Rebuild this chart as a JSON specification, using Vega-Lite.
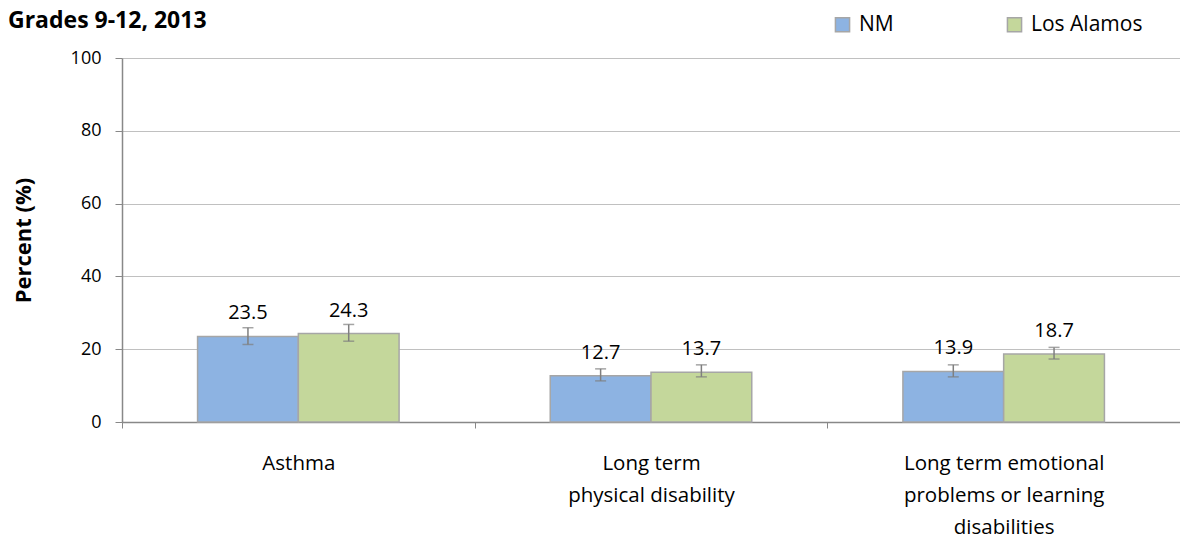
{
  "$schema": "https://vega.github.io/schema/vega-lite/v6.json",
  "width": 1058,
  "height": 364,
  "autosize": {"type": "none"},
  "padding": {"left": 122, "top": 58, "right": 0, "bottom": 119},
  "background": "white",
  "config": {
    "font": "Open Sans",
    "view": {"stroke": null}
  },
  "title": {
    "text": "Grades 9-12, 2013",
    "anchor": "start",
    "frame": "group",
    "fontSize": 23,
    "fontWeight": "bold",
    "font": "Open Sans",
    "color": "#000000",
    "dx": -114,
    "dy": 33,
    "offset": 14
  },
  "data": {
    "values": [
      {"category": "Asthma", "group": "NM", "value": 23.5, "lo": 21.3, "hi": 25.9},
      {"category": "Asthma", "group": "Los Alamos", "value": 24.3, "lo": 22.2, "hi": 26.8},
      {"category": "Long term physical disability", "group": "NM", "value": 12.7, "lo": 11.3, "hi": 14.6},
      {"category": "Long term physical disability", "group": "Los Alamos", "value": 13.7, "lo": 12.4, "hi": 15.7},
      {"category": "Long term emotional problems or learning disabilities", "group": "NM", "value": 13.9, "lo": 12.4, "hi": 15.7},
      {"category": "Long term emotional problems or learning disabilities", "group": "Los Alamos", "value": 18.7, "lo": 17.3, "hi": 20.5}
    ]
  },
  "encoding": {
    "x": {
      "field": "category",
      "type": "nominal",
      "sort": null,
      "scale": {"paddingInner": 0, "paddingOuter": 0},
      "axis": {
        "title": null,
        "labelAngle": 0,
        "labelFontSize": 20.5,
        "labelColor": "#000000",
        "labelLineHeight": 32,
        "labelPadding": 25,
        "labelBaseline": "top",
        "labelExpr": "datum.label == 'Asthma' ? ['Asthma'] : datum.label == 'Long term physical disability' ? ['Long term', 'physical disability'] : datum.label == 'Long term emotional problems or learning disabilities' ? ['Long term emotional', 'problems or learning', 'disabilities'] : ''",
        "tickBand": "extent",
        "tickSize": 6,
        "tickColor": "#888888",
        "domainColor": "#888888",
        "domainWidth": 1.5,
        "labelLimit": 400
      }
    },
    "xOffset": {
      "field": "group",
      "type": "nominal",
      "sort": ["NM", "Los Alamos"],
      "scale": {"paddingOuter": 0.75, "paddingInner": 0}
    }
  },
  "layer": [
    {
      "mark": {"type": "bar", "stroke": "#a6a6a6", "strokeWidth": 1.5},
      "encoding": {
        "y": {
          "field": "value",
          "type": "quantitative",
          "scale": {"domain": [0, 100]},
          "axis": {
            "title": "Percent (%)",
            "titleFontSize": 22,
            "titleFontWeight": "bold",
            "titleColor": "#000000",
            "titlePadding": 35,
            "values": [0, 20, 40, 60, 80, 100],
            "labelFontSize": 18,
            "labelColor": "#000000",
            "labelPadding": 14,
            "tickSize": 7,
            "tickColor": "#888888",
            "domainColor": "#888888",
            "domainWidth": 1.5,
            "gridColor": "#c0c0c0",
            "gridWidth": 1.2
          }
        },
        "color": {
          "field": "group",
          "type": "nominal",
          "sort": ["NM", "Los Alamos"],
          "scale": {"domain": ["NM", "Los Alamos"], "range": ["#8db3e2", "#c4d79b"]},
          "legend": {
            "title": null,
            "orient": "none",
            "legendX": 710,
            "legendY": -44,
            "direction": "horizontal",
            "symbolType": "square",
            "symbolSize": 200,
            "symbolStrokeColor": "#a6a6a6",
            "symbolStrokeWidth": 1.5,
            "labelFontSize": 21,
            "labelColor": "#000000",
            "columnPadding": 110,
            "labelOffset": 6
          }
        }
      }
    },
    {
      "mark": {"type": "rule", "color": "#7f7f7f", "strokeWidth": 1.5},
      "encoding": {
        "y": {"field": "lo", "type": "quantitative"},
        "y2": {"field": "hi"}
      }
    },
    {
      "mark": {"type": "tick", "color": "#7f7f7f", "size": 11, "thickness": 1.5, "orient": "horizontal"},
      "encoding": {
        "y": {"field": "lo", "type": "quantitative"}
      }
    },
    {
      "mark": {"type": "tick", "color": "#7f7f7f", "size": 11, "thickness": 1.5, "orient": "horizontal"},
      "encoding": {
        "y": {"field": "hi", "type": "quantitative"}
      }
    },
    {
      "mark": {"type": "text", "fontSize": 20, "dy": -23, "baseline": "middle", "color": "#000000"},
      "encoding": {
        "y": {"field": "value", "type": "quantitative"},
        "text": {"field": "value", "type": "quantitative", "format": ".1f"}
      }
    }
  ]
}
